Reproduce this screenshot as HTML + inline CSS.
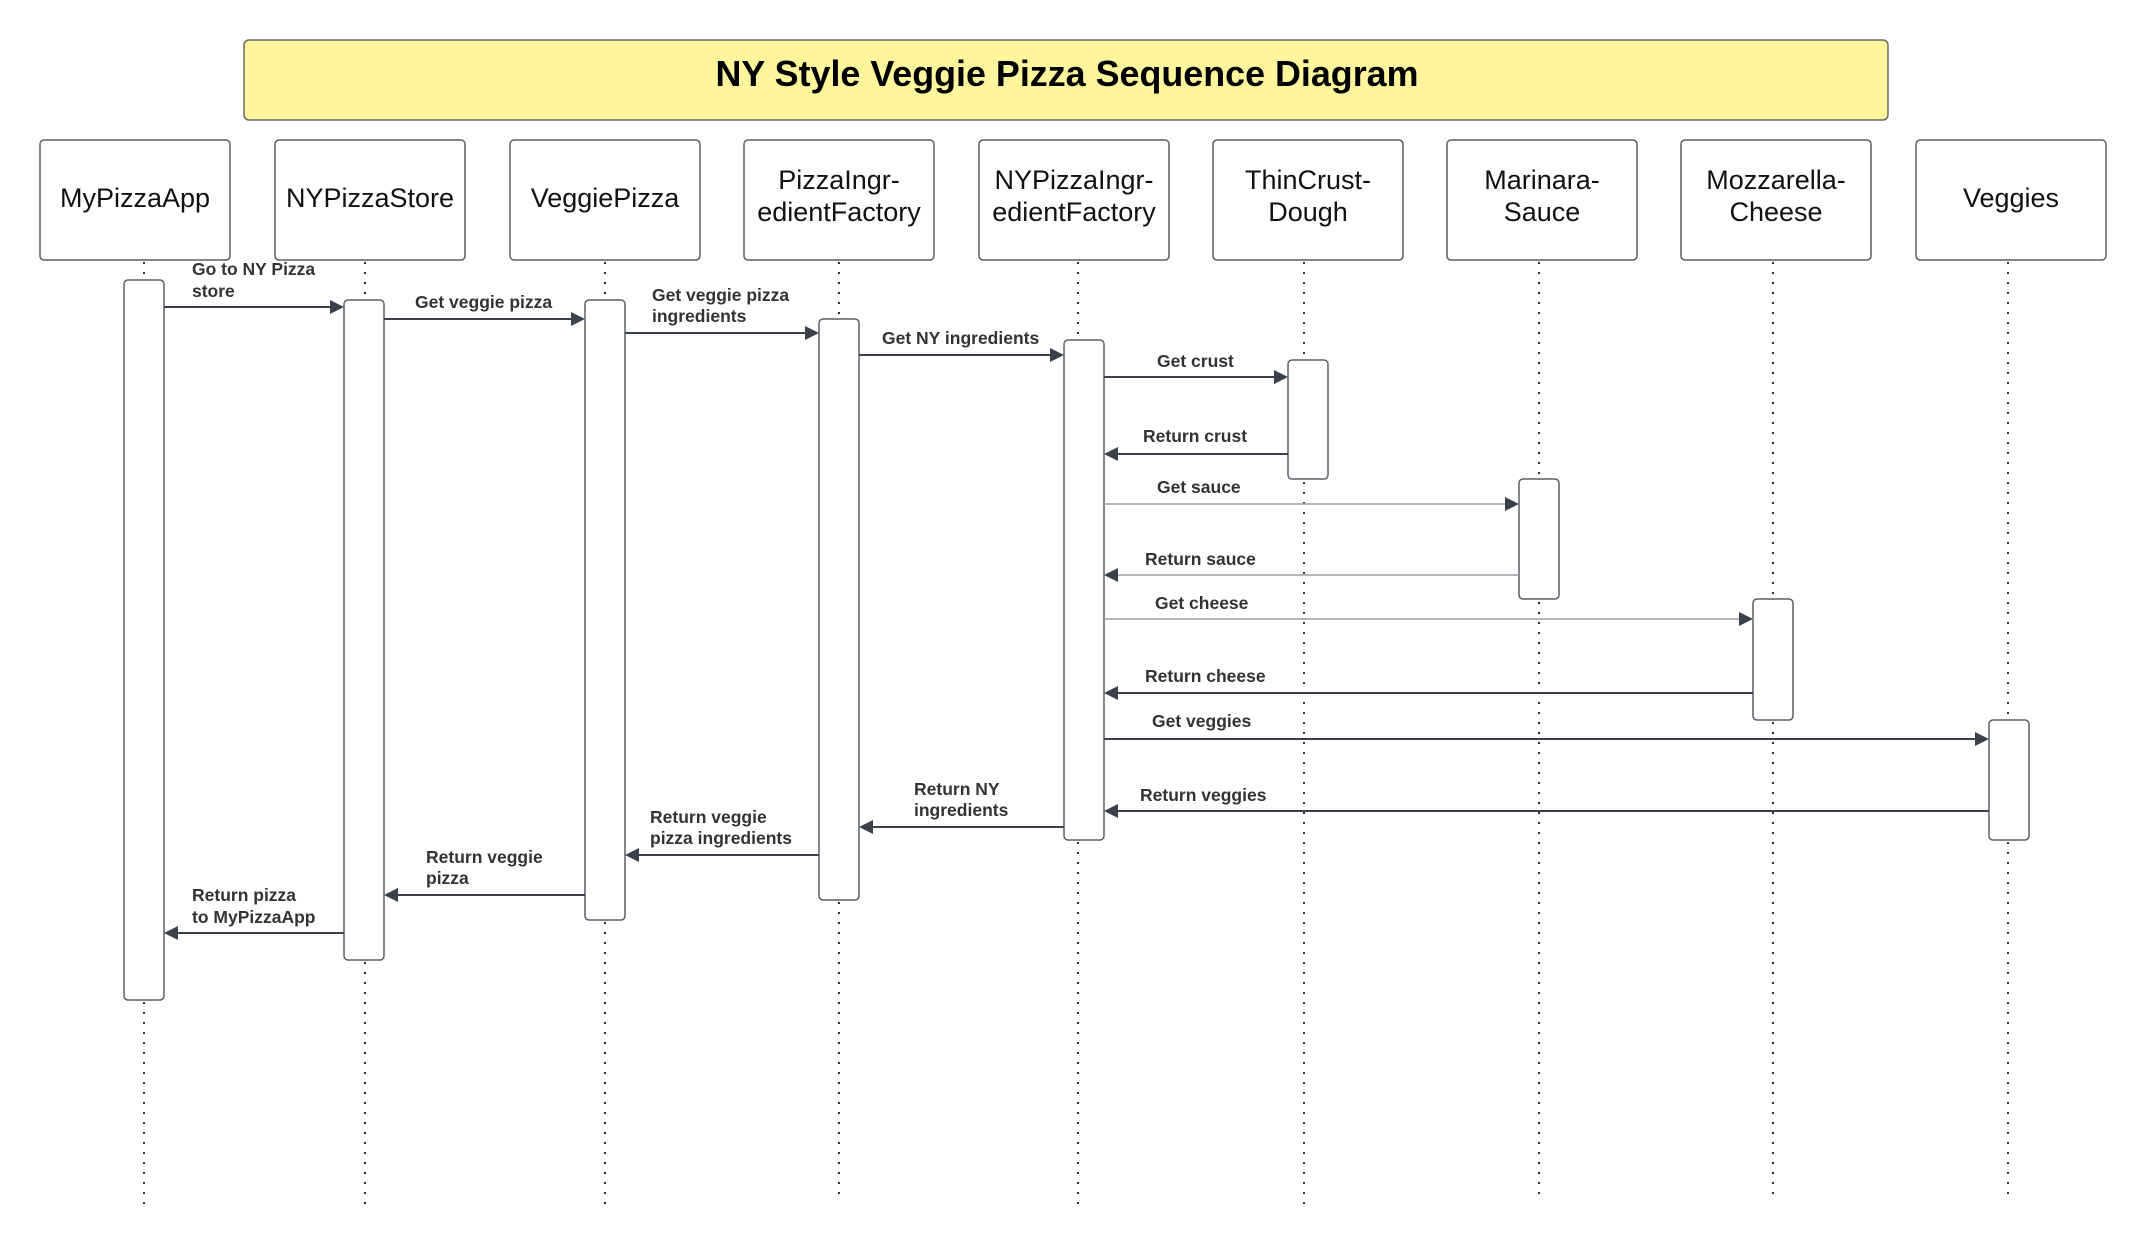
<!DOCTYPE html>
<html><head><meta charset="utf-8"><style>
html,body{margin:0;padding:0;background:#fff}
svg{display:block}
.h{font-family:"Liberation Sans",sans-serif;font-size:27px;fill:#111;text-anchor:middle}
.m{font-family:"Liberation Sans",sans-serif;font-size:17.5px;font-weight:bold;fill:#333}
.box{fill:#fff;stroke:#5a5f66;stroke-width:1.5}
.ll{stroke:#333;stroke-width:2;stroke-dasharray:2 8}
.ln{stroke:#3a414a;stroke-width:2}
.lt{stroke:#9a9ea4;stroke-width:1.5}
.ah{fill:#3a414a}
</style></head><body>
<svg width="2146" height="1251" viewBox="0 0 2146 1251" xmlns="http://www.w3.org/2000/svg">
<rect x="244" y="40" width="1644" height="80" rx="5" fill="#fff59d" stroke="#6a6a5a" stroke-width="1.5"/>
<text x="1067" y="86" font-family="Liberation Sans, sans-serif" font-size="36" font-weight="bold" text-anchor="middle" fill="#000" textLength="703" lengthAdjust="spacingAndGlyphs">NY Style Veggie Pizza Sequence Diagram</text>

<g class="ll">
<line x1="144" y1="262" x2="144" y2="1212"/>
<line x1="365" y1="262" x2="365" y2="1212"/>
<line x1="605" y1="262" x2="605" y2="1212"/>
<line x1="839" y1="262" x2="839" y2="1202"/>
<line x1="1078" y1="262" x2="1078" y2="1212"/>
<line x1="1304" y1="262" x2="1304" y2="1212"/>
<line x1="1539" y1="262" x2="1539" y2="1202"/>
<line x1="1773" y1="262" x2="1773" y2="1202"/>
<line x1="2008" y1="262" x2="2008" y2="1202"/>
</g>

<g>
<rect class="box" x="40" y="140" width="190" height="120" rx="4"/>
<rect class="box" x="275" y="140" width="190" height="120" rx="4"/>
<rect class="box" x="510" y="140" width="190" height="120" rx="4"/>
<rect class="box" x="744" y="140" width="190" height="120" rx="4"/>
<rect class="box" x="979" y="140" width="190" height="120" rx="4"/>
<rect class="box" x="1213" y="140" width="190" height="120" rx="4"/>
<rect class="box" x="1447" y="140" width="190" height="120" rx="4"/>
<rect class="box" x="1681" y="140" width="190" height="120" rx="4"/>
<rect class="box" x="1916" y="140" width="190" height="120" rx="4"/>
</g>
<text class="h" x="135" y="207">MyPizzaApp</text>
<text class="h" x="370" y="207">NYPizzaStore</text>
<text class="h" x="605" y="207">VeggiePizza</text>
<text class="h" x="839" y="189">PizzaIngr-</text><text class="h" x="839" y="221">edientFactory</text>
<text class="h" x="1074" y="189">NYPizzaIngr-</text><text class="h" x="1074" y="221">edientFactory</text>
<text class="h" x="1308" y="189">ThinCrust-</text><text class="h" x="1308" y="221">Dough</text>
<text class="h" x="1542" y="189">Marinara-</text><text class="h" x="1542" y="221">Sauce</text>
<text class="h" x="1776" y="189">Mozzarella-</text><text class="h" x="1776" y="221">Cheese</text>
<text class="h" x="2011" y="207">Veggies</text>

<rect class="box" x="124" y="280" width="40" height="720" rx="4"/>
<rect class="box" x="344" y="300" width="40" height="660" rx="4"/>
<rect class="box" x="585" y="300" width="40" height="620" rx="4"/>
<rect class="box" x="819" y="319" width="40" height="581" rx="4"/>
<rect class="box" x="1064" y="340" width="40" height="500" rx="4"/>
<rect class="box" x="1288" y="360" width="40" height="119" rx="4"/>
<rect class="box" x="1519" y="479" width="40" height="120" rx="4"/>
<rect class="box" x="1753" y="599" width="40" height="121" rx="4"/>
<rect class="box" x="1989" y="720" width="40" height="120" rx="4"/>

<g>
<line class="ln" x1="164" y1="307" x2="332" y2="307"/><polygon class="ah" points="344,307 330,300 330,314"/>
<line class="ln" x1="384" y1="319" x2="573" y2="319"/><polygon class="ah" points="585,319 571,312 571,326"/>
<line class="ln" x1="625" y1="333" x2="807" y2="333"/><polygon class="ah" points="819,333 805,326 805,340"/>
<line class="ln" x1="859" y1="355" x2="1052" y2="355"/><polygon class="ah" points="1064,355 1050,348 1050,362"/>
<line class="ln" x1="1104" y1="377" x2="1276" y2="377"/><polygon class="ah" points="1288,377 1274,370 1274,384"/>
<line class="ln" x1="1288" y1="454" x2="1116" y2="454"/><polygon class="ah" points="1104,454 1118,447 1118,461"/>
<line class="lt" x1="1104" y1="504" x2="1507" y2="504"/><polygon class="ah" points="1519,504 1505,497 1505,511"/>
<line class="lt" x1="1519" y1="575" x2="1116" y2="575"/><polygon class="ah" points="1104,575 1118,568 1118,582"/>
<line class="lt" x1="1104" y1="619" x2="1741" y2="619"/><polygon class="ah" points="1753,619 1739,612 1739,626"/>
<line class="ln" x1="1753" y1="693" x2="1116" y2="693"/><polygon class="ah" points="1104,693 1118,686 1118,700"/>
<line class="ln" x1="1104" y1="739" x2="1977" y2="739"/><polygon class="ah" points="1989,739 1975,732 1975,746"/>
<line class="ln" x1="1989" y1="811" x2="1116" y2="811"/><polygon class="ah" points="1104,811 1118,804 1118,818"/>
<line class="ln" x1="1064" y1="827" x2="871" y2="827"/><polygon class="ah" points="859,827 873,820 873,834"/>
<line class="ln" x1="819" y1="855" x2="637" y2="855"/><polygon class="ah" points="625,855 639,848 639,862"/>
<line class="ln" x1="585" y1="895" x2="396" y2="895"/><polygon class="ah" points="384,895 398,888 398,902"/>
<line class="ln" x1="344" y1="933" x2="176" y2="933"/><polygon class="ah" points="164,933 178,926 178,940"/>
</g>

<text class="m" x="192" y="275">Go to NY Pizza</text><text class="m" x="192" y="297">store</text>
<text class="m" x="415" y="308">Get veggie pizza</text>
<text class="m" x="652" y="301">Get veggie pizza</text><text class="m" x="652" y="322">ingredients</text>
<text class="m" x="882" y="344">Get NY ingredients</text>
<text class="m" x="1157" y="367">Get crust</text>
<text class="m" x="1143" y="442">Return crust</text>
<text class="m" x="1157" y="493">Get sauce</text>
<text class="m" x="1145" y="565">Return sauce</text>
<text class="m" x="1155" y="609">Get cheese</text>
<text class="m" x="1145" y="682">Return cheese</text>
<text class="m" x="1152" y="727">Get veggies</text>
<text class="m" x="1140" y="801">Return veggies</text>
<text class="m" x="914" y="795">Return NY</text><text class="m" x="914" y="816">ingredients</text>
<text class="m" x="650" y="823">Return veggie</text><text class="m" x="650" y="844">pizza ingredients</text>
<text class="m" x="426" y="863">Return veggie</text><text class="m" x="426" y="884">pizza</text>
<text class="m" x="192" y="901">Return pizza</text><text class="m" x="192" y="923">to MyPizzaApp</text>
</svg>
</body></html>
